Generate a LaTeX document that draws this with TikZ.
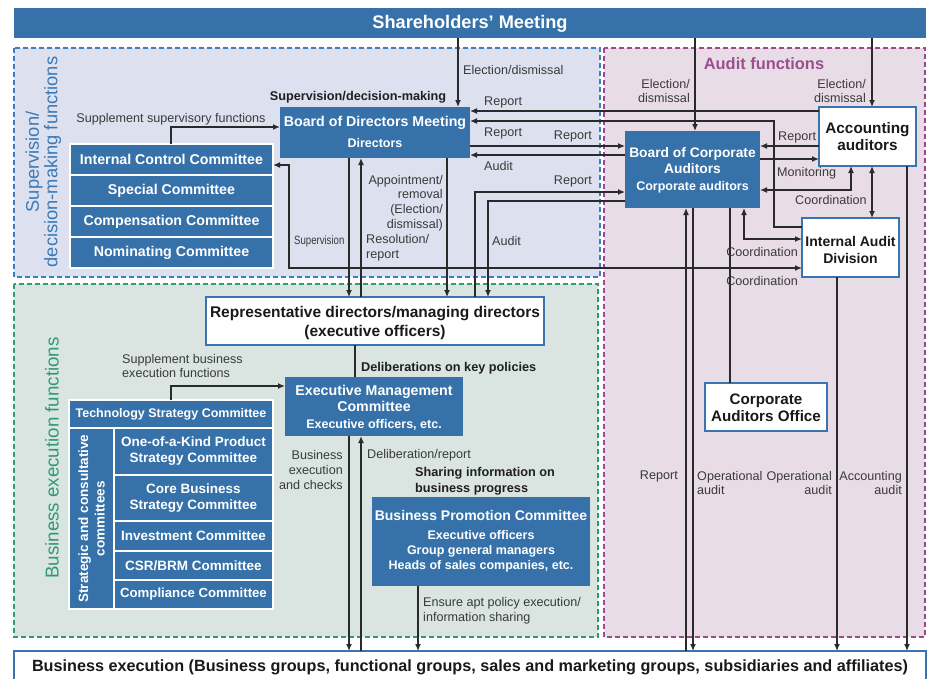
\documentclass[tikz,border=0pt]{standalone}
\usepackage{fontspec}
\setmainfont{Liberation Sans}
\usepackage{graphicx}
\usetikzlibrary{arrows.meta,calc}
\definecolor{mblue}{HTML}{3672A9}
\definecolor{wblue}{HTML}{3A74B0}
\definecolor{supfill}{HTML}{DDE1EF}
\definecolor{audfill}{HTML}{E8DDE6}
\definecolor{busfill}{HTML}{DAE4E0}
\definecolor{supdash}{HTML}{3D7EC2}
\definecolor{auddash}{HTML}{9B4B8B}
\definecolor{busdash}{HTML}{2E9B74}
\definecolor{suptext}{HTML}{3B79B5}
\definecolor{bustext}{HTML}{2F9A71}
\definecolor{audtext}{HTML}{9C4E8D}
\definecolor{lineC}{HTML}{2A2A2A}
\definecolor{gtext}{HTML}{3A3A3A}
\newcommand\fLab{\fontsize{12.6}{14.7}\selectfont}
\newcommand\fBld{\bfseries\fontsize{12.7}{16}\selectfont}
\newcommand\fBox{\bfseries\fontsize{14.2}{16}\selectfont}
\newcommand\fRow{\bfseries\fontsize{13.5}{16}\selectfont}
\newcommand\fSub{\bfseries\fontsize{12.5}{15}\selectfont}
\begin{document}
\begin{tikzpicture}[x=1pt,y=-1pt,
  bbox/.style={fill=mblue, draw=none, inner sep=0pt, outer sep=0pt, anchor=north west},
  rowbox/.style={fill=mblue, draw=white, line width=1.5pt, inner sep=0pt, outer sep=0pt, anchor=north west, font=\fBox, text=white, align=center},
  wbox/.style={fill=white, draw=wblue, line width=1.6pt, inner sep=0pt, outer sep=0pt, anchor=north west},
  wtxt/.style={text=white, inner sep=0pt, align=center},
  btxt/.style={text=black!90, inner sep=0pt, align=center},
  lbl/.style={font=\fLab, text=gtext, inner sep=0pt},
  blbl/.style={font=\fBld, text=black!88, inner sep=0pt},
  dashline/.style={line width=1.6pt, dash pattern=on 5pt off 3pt},
  arr/.style={draw=lineC, line width=1.3pt, -{Latex[length=7pt,width=6pt]}},
  darr/.style={draw=lineC, line width=1.3pt, {Latex[length=7pt,width=6pt]}-{Latex[length=7pt,width=6pt]}},
  ln/.style={draw=lineC, line width=1.3pt}]
\useasboundingbox (0,0) rectangle (942,678);
\clip (0,0) rectangle (942,678);
% regions
\draw[fill=supfill, draw=supdash, dashline] (14,48) rectangle (600,277);
\draw[fill=audfill, draw=auddash, dashline] (604,48) rectangle (925,637);
\draw[fill=busfill, draw=busdash, dashline] (14,284) rectangle (598,637);
% region titles
\node[rotate=90, align=center, text=suptext, inner sep=0pt, font=\fontsize{18.3}{18.5}\selectfont] (supT) at (43.5,162) {Supervision/\\decision-making functions};
\node[rotate=90, text=bustext, inner sep=0pt, font=\fontsize{18.7}{19}\selectfont] (busT) at (52,458) {Business execution functions};
\node[text=audtext, inner sep=0pt, font=\bfseries\fontsize{16.4}{18}\selectfont] (audT) at (764,64) {Audit functions};
% coordinates for lanes
\foreach \v in {171,289,349,355,361,418,447,458,475,488,686,693,695,730,744,774,837,851,872,907}{\coordinate (X\v) at (\v,0);}
\foreach \v in {111,121,127,146,155,159,165,190,192,201,227,239,268,386}{\coordinate (Y\v) at (0,\v);}
% boxes
\node[bbox, minimum width=912, minimum height=30] (sh) at (14,8) {};
\node[wtxt, font=\bfseries\fontsize{18.2}{20}\selectfont] (shT) at (470,24) {Shareholders’ Meeting};
\node[bbox, minimum width=190, minimum height=51] (bod) at (280,107) {};
\node[wtxt, font=\fBox] (bodT) at (375,123) {Board of Directors Meeting};
\node[wtxt, font=\fSub] (bodS) at (375,143) {Directors};
\node[rowbox, minimum width=203, minimum height=31] (ic) at (70,144) {Internal Control Committee};
\node[rowbox, minimum width=203, minimum height=31] (spc) at (70,175) {Special Committee};
\node[rowbox, minimum width=203, minimum height=31] (cmp) at (70,206) {Compensation Committee};
\node[rowbox, minimum width=203, minimum height=31] (nom) at (70,237) {Nominating Committee};
\node[bbox, minimum width=135, minimum height=77] (bca) at (625,131) {};
\node[wtxt, font=\bfseries\fontsize{13.8}{16}\selectfont] (bcaT) at (692.5,161) {Board of Corporate\\Auditors};
\node[wtxt, font=\fSub] (bcaS) at (692.5,187) {Corporate auditors};
\node[wbox, minimum width=97, minimum height=59] (aa) at (819,107) {};
\node[btxt, font=\bfseries\fontsize{15.3}{17}\selectfont] (aaT) at (867.5,137) {Accounting\\auditors};
\node[wbox, minimum width=97, minimum height=59] (iad) at (802,218) {};
\node[btxt, font=\bfseries\fontsize{14}{17}\selectfont] (iadT) at (850.5,250) {Internal Audit\\Division};
\node[wbox, minimum width=122, minimum height=48] (cao) at (705,383) {};
\node[btxt, font=\bfseries\fontsize{15.2}{17}\selectfont] (caoT) at (766,408) {Corporate\\Auditors Office};
\node[wbox, minimum width=338, minimum height=48] (rep) at (206,297) {};
\node[btxt, font=\bfseries\fontsize{15.5}{18.5}\selectfont] (repT) at (375,323) {Representative directors/managing directors\\(executive officers)};
\node[bbox, minimum width=178, minimum height=59] (emc) at (285,377) {};
\node[wtxt, font=\fBox] (emcT) at (374,398) {Executive Management\\Committee};
\node[wtxt, font=\fSub] (emcS) at (374,425) {Executive officers, etc.};
\node[bbox, minimum width=218, minimum height=89] (bpc) at (372,497) {};
\node[wtxt, font=\bfseries\fontsize{14}{16}\selectfont] (bpcT) at (481,515) {Business Promotion Committee};
\node[wtxt, font=\fSub] (bpcS) at (481,551) {Executive officers\\Group general managers\\Heads of sales companies, etc.};
\node[rowbox, minimum width=204, minimum height=28, font=\bfseries\fontsize{12.5}{14}\selectfont] (tech) at (69,400) {Technology Strategy Committee};
\node[rowbox, minimum width=45, minimum height=181] (strat) at (69,428) {};
\node[wtxt, rotate=90, font=\bfseries\fontsize{13.5}{16.5}\selectfont] (stratT) at (strat.center) {Strategic and consultative\\committees};
\node[rowbox, font=\fRow, minimum width=159, minimum height=47] (ook) at (114,428) {One-of-a-Kind Product\\Strategy Committee};
\node[rowbox, font=\fRow, minimum width=159, minimum height=46] (core) at (114,475) {Core Business\\Strategy Committee};
\node[rowbox, font=\fRow, minimum width=159, minimum height=30] (inv) at (114,521) {Investment Committee};
\node[rowbox, font=\fRow, minimum width=159, minimum height=29] (csr) at (114,551) {CSR/BRM Committee};
\node[rowbox, font=\bfseries\fontsize{13.2}{16}\selectfont, minimum width=159, minimum height=29] (cpl) at (114,580) {Compliance Committee};
\node[wbox, line width=2pt, minimum width=912, minimum height=60] (be) at (14,651) {};
\node[btxt, font=\bfseries\fontsize{16.2}{18}\selectfont] (beT) at (470,667) {Business execution (Business groups, functional groups, sales and marketing groups, subsidiaries and affiliates)};
% connectors
\draw[arr] (sh.south -| X458) -- (bod.north -| X458);
\draw[arr] (sh.south -| X695) -- (bca.north -| X695);
\draw[arr] (sh.south -| X872) -- (aa.north -| X872);
\draw[arr] (ic.north -| X171) |- (bod.west |- Y127);
\draw[darr] (iad.west |- Y268) -| (X289 |- Y165) -- (ic.east |- Y165);
\draw[arr] (aa.west |- Y111) -- (bod.east |- Y111);
\draw[arr] (iad.west |- Y227) -| (X774 |- Y121) -- (bod.east |- Y121);
\draw[arr] (bod.east |- Y146) -- (bca.west |- Y146);
\draw[arr] (bca.west |- Y155) -- (bod.east |- Y155);
\draw[arr] (rep.north -| X475) |- (bca.west |- Y192);
\draw[arr] (bca.west |- Y201) -| (rep.north -| X488);
\draw[arr] (bod.south -| X349) -- (rep.north -| X349);
\draw[arr] (rep.north -| X361) -- (bod.south -| X361);
\draw[arr] (bod.south -| X447) -- (rep.north -| X447);
\draw[arr] (aa.west |- Y146) -- (bca.east |- Y146);
\draw[arr] (bca.east |- Y159) -- (aa.west |- Y159);
\draw[darr] (bca.east |- Y190) -| (aa.south -| X851);
\draw[darr] (aa.south -| X872) -- (iad.north -| X872);
\draw[darr] (bca.south -| X744) |- (iad.west |- Y239);
\draw[ln] (cao.north -| X730) -- (bca.south -| X730);
\draw[arr] (be.north -| X686) -- (bca.south -| X686);
\draw[arr] (bca.south -| X693) -- (be.north -| X693);
\draw[arr] (iad.south -| X837) -- (be.north -| X837);
\draw[arr] (aa.south -| X907) -- (be.north -| X907);
\draw[ln] (rep.south -| X355) -- (emc.north -| X355);
\draw[arr] (tech.north -| X171) |- (emc.west |- Y386);
\draw[arr] (emc.south -| X349) -- (be.north -| X349);
\draw[arr] (be.north -| X361) -- (emc.south -| X361);
\draw[arr] (bpc.south -| X418) -- (be.north -| X418);
% labels
\node[lbl] (l1) at (171,119) {Supplement supervisory functions};
\node[lbl, anchor=west] (l2) at (463,70) {Election/dismissal};
\node[lbl, anchor=west] (l3) at (484,102) {Report};
\node[lbl, anchor=west] (l4) at (484,133) {Report};
\node[lbl, anchor=east] (l5) at (592,136) {Report};
\node[lbl, anchor=west] (l6) at (484,166) {Audit};
\node[lbl, anchor=east] (l7) at (592,181) {Report};
\node[lbl, anchor=east, align=right] (l8) at (443,203) {Appointment/\\removal\\(Election/\\dismissal)};
\node[lbl, anchor=west] (l9) at (294,241) {\scalebox{0.8}[1]{\fontsize{12}{14}\selectfont Supervision}};
\node[lbl, anchor=west, align=left] (l10) at (366,248) {Resolution/\\report};
\node[lbl, anchor=west] (l11) at (492,241) {Audit};
\node[lbl, anchor=east, align=right] (l12) at (690,91) {Election/\\dismissal};
\node[lbl, anchor=east, align=right] (l13) at (866,91) {Election/\\dismissal};
\node[lbl, anchor=west] (l14) at (778,137) {Report};
\node[lbl, anchor=west] (l15) at (777,173) {Monitoring};
\node[lbl, anchor=west] (l16) at (795,200) {Coordination};
\node[lbl, anchor=east] (l17) at (798,252) {Coordination};
\node[lbl, anchor=east] (l18) at (798,281) {Coordination};
\node[lbl, anchor=east] (l19) at (678,476) {Report};
\node[lbl, anchor=west, align=left] (l20) at (697,483) {Operational\\audit};
\node[lbl, anchor=east, align=right] (l21) at (832,483) {Operational\\audit};
\node[lbl, anchor=east, align=right] (l22) at (902,483) {Accounting\\audit};
\node[lbl, anchor=west, align=left] (l23) at (122,366) {Supplement business\\execution functions};
\node[lbl, anchor=east, align=right] (l24) at (343,470) {Business\\execution\\and checks};
\node[lbl, anchor=west] (l25) at (367,455) {Deliberation/report};
\node[lbl, anchor=west, align=left] (l26) at (423,610.5) {Ensure apt policy execution/\\information sharing};
\node[blbl] (b1) at (358,97) {Supervision/decision-making};
\node[blbl, anchor=west] (b2) at (361,368) {Deliberations on key policies};
\node[blbl, anchor=west, align=left] (b3) at (415,481) {Sharing information on\\business progress};
\end{tikzpicture}
\end{document}
